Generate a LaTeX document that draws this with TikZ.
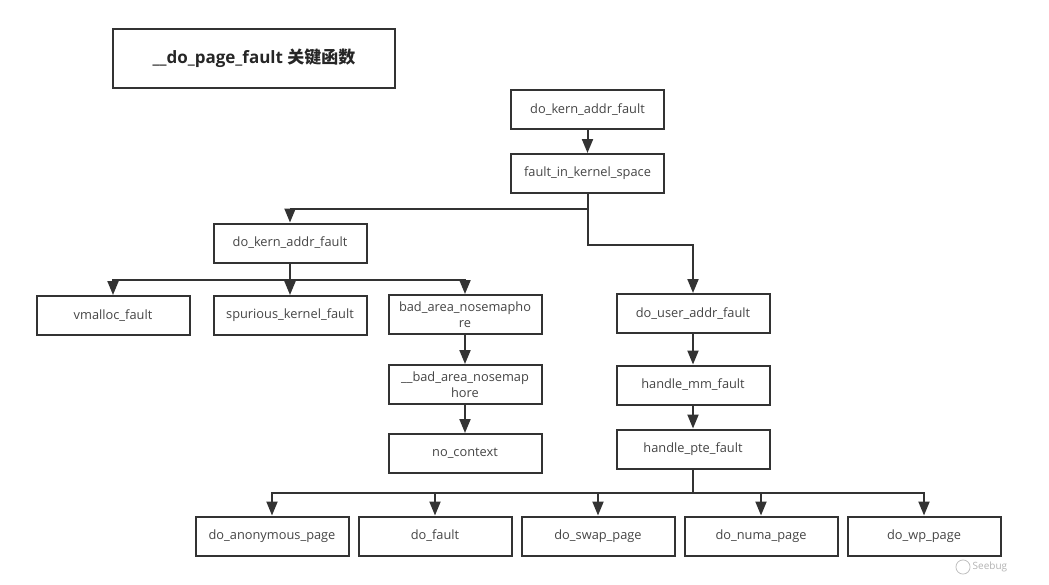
\documentclass[tikz,border=0pt]{standalone}
\usepackage{fontspec}
\setmainfont{Open Sans}
\newfontfamily\cjk{Noto Sans CJK SC}
\usepackage{tikz}
\usetikzlibrary{arrows.meta}
\definecolor{linegray}{HTML}{333333}
\definecolor{textgray}{HTML}{454545}
\tikzset{
  fbox/.style={draw=linegray, line width=2pt, fill=white, minimum width=153pt,
    minimum height=39pt, inner sep=0pt, align=center, text=textgray,
    font=\fontsize{12.8}{15.5}\selectfont},
  arr/.style={draw=linegray, line width=2pt,
    -{Triangle[width=11pt,length=14pt]}},
}

\begin{document}
\begin{tikzpicture}[x=1pt, y=-1pt]
				%%%%% START %%%%%
				\useasboundingbox (0,0) rectangle (1049,584);
				
				\node[draw=linegray, line width=2pt, minimum width=282pt, minimum height=59pt, text=black!85,
				  font=\fontsize{17}{20}\selectfont\bfseries] (title) at (254, 58.5)
				  {\_\_do\_page\_fault {\cjk\bfseries 关键函数}};
				
				\node[fbox] (kernA) at (587.5, 109.5) {do\_kern\_addr\_fault};
				\node[fbox] (kspace) at (587.5, 173.5) {fault\_in\_kernel\_space};
				\draw[arr] (kernA) -- (kspace);
				
				\node[fbox] (kernB) at (290, 243) {do\_kern\_addr\_fault};
				\node[fbox] (vmalloc) at (113, 315.5) {vmalloc\_fault};
				\node[fbox] (spurious) at (290, 315.5) {spurious\_kernel\_fault};
				\node[fbox] (badarea) at (465, 314.5) {bad\_area\_nosemapho\\re};
				\node[fbox] (ubadarea) at (465, 384.5) {\_\_bad\_area\_nosemap\\hore};
				\node[fbox] (nocontext) at (465, 453.5) {no\_context};
				
				\node[fbox] (useraddr) at (693, 313.5) {do\_user\_addr\_fault};
				\node[fbox] (mmfault) at (693, 385) {handle\_mm\_fault};
				\node[fbox] (ptefault) at (693, 449) {handle\_pte\_fault};
				
				\node[fbox] (anon) at (272, 536) {do\_anonymous\_page};
				\node[fbox] (dofault) at (435, 536) {do\_fault};
				\node[fbox] (swap) at (598, 536) {do\_swap\_page};
				\node[fbox] (numa) at (761, 536) {do\_numa\_page};
				\node[fbox] (wp) at (924, 536) {do\_wp\_page};
				
				% kernel side
				\draw[arr] (kspace.south) -- ++(0,15) -| (kernB.north);
				\draw[arr] (kernB.south) -- ++(0,16) -| (vmalloc.north);
				\draw[arr] (kernB.south) -- (spurious.north);
				\draw[arr] (kernB.south) -- ++(0,16) -| (badarea.north);
				\draw[arr] (badarea) -- (ubadarea);
				\draw[arr] (ubadarea) -- (nocontext);
				
				% user side
				\draw[arr] (kspace.south) -- ++(0,51) -| (useraddr.north);
				\draw[arr] (useraddr) -- (mmfault);
				\draw[arr] (mmfault) -- (ptefault);
				\foreach \n in {anon,dofault,swap,numa,wp}
				  \draw[arr] (ptefault.south) -- ++(0,23) -| (\n.north);
				
				\node[circle, draw=black!25, line width=0.8pt, inner sep=5pt] (logo) at (963, 567) {};
				\node[text=black!30, font=\fontsize{10}{11}\selectfont, anchor=west, inner sep=2pt] (seebug) at (logo.east) {Seebug};
				%%%%% END %%%%%
\end{tikzpicture}
\end{document}
